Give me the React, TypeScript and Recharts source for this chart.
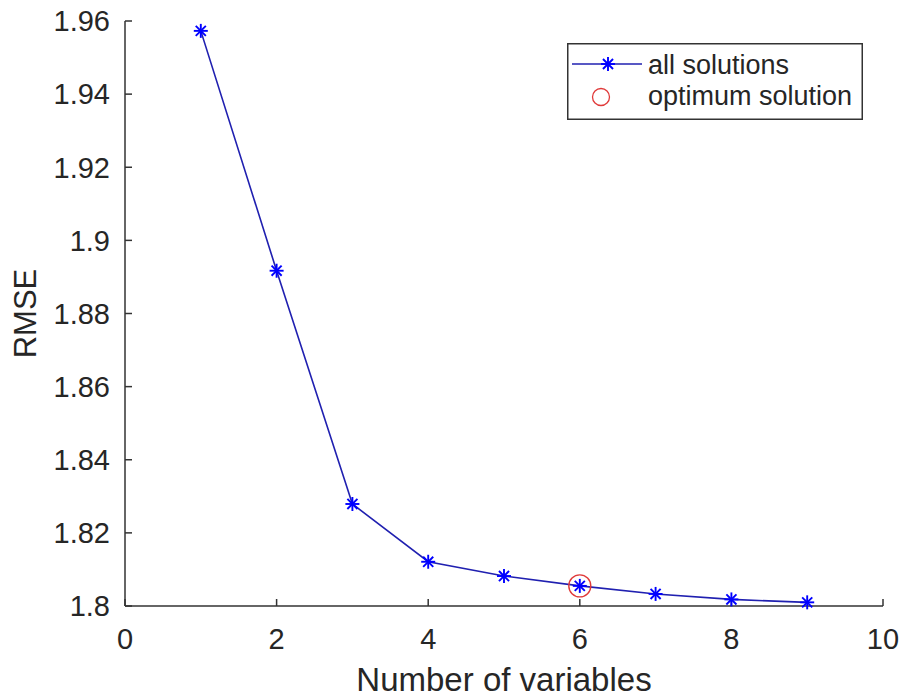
import {
  ComposedChart,
  Legend,
  Line,
  XAxis,
  YAxis,
} from "recharts";

const variables = [1, 2, 3, 4, 5, 6, 7, 8, 9];
const rmse = [1.9573, 1.8917, 1.8279, 1.8121, 1.8082, 1.8055, 1.8033, 1.8018, 1.801];
const optimumVariables = 6;
const xTicks = [0, 2, 4, 6, 8, 10];
const yTicks = [1.8, 1.82, 1.84, 1.86, 1.88, 1.9, 1.92, 1.94, 1.96];
const legendNames = ["all solutions", "optimum solution"];

const data = variables.map((n, i) => ({
  n,
  rmse: rmse[i],
  optimum: n === optimumVariables ? rmse[i] : null,
}));

const FONT = '"Liberation Sans", Arial, Helvetica, sans-serif';
const AXIS = "#333333";
const TEXT = "#262626";
const BLUE = "#0000ff";
const LINE_BLUE = "#2020b0";
const RED = "#e03a3a";

function Star({ cx, cy, r = 7, color = BLUE }: { cx: number; cy: number; r?: number; color?: string }) {
  const d = r * 0.72;
  return (
    <g stroke={color} strokeWidth={1.9}>
      <line x1={cx - r} y1={cy} x2={cx + r} y2={cy} />
      <line x1={cx} y1={cy - r} x2={cx} y2={cy + r} />
      <line x1={cx - d} y1={cy - d} x2={cx + d} y2={cy + d} />
      <line x1={cx - d} y1={cy + d} x2={cx + d} y2={cy - d} />
    </g>
  );
}

function LegendBox() {
  return (
    <svg width={296} height={77} style={{ display: "block" }}>
      <rect x={0.75} y={0.75} width={294.5} height={75.5} fill="#fff" stroke={AXIS} strokeWidth={1.5} />
      <line x1={5} y1={21} x2={75} y2={21} stroke={LINE_BLUE} strokeWidth={1.6} />
      <Star cx={41} cy={21} />
      <circle cx={34} cy={54} r={8.5} fill="none" stroke={RED} strokeWidth={1.3} />
      <text x={81} y={31} fontSize={27} fontFamily={FONT} fill={TEXT}>
        {legendNames[0]}
      </text>
      <text x={81} y={62} fontSize={27} fontFamily={FONT} fill={TEXT}>
        {legendNames[1]}
      </text>
    </svg>
  );
}

const tickStyle = { fontSize: 29, fontFamily: FONT, fill: TEXT };

export default function App() {
  return (
    <div style={{ position: "absolute", left: 0, top: 0, width: 905, height: 697, background: "#fff" }}>
      <ComposedChart
        width={905}
        height={697}
        data={data}
        margin={{ top: 21, right: 22, left: 0, bottom: 0 }}
      >
        <XAxis
          xAxisId="bottom"
          dataKey="n"
          type="number"
          domain={[0, 10]}
          ticks={xTicks}
          interval={0}
          height={91}
          tickSize={-7}
          tickMargin={29}
          stroke={AXIS}
          strokeWidth={1.5}
          tick={tickStyle}
          label={{
            content: ({ viewBox }: any) => (
              <text
                x={viewBox.x + viewBox.width / 2}
                y={viewBox.y + 85}
                textAnchor="middle"
                fontSize={33}
                fontFamily={FONT}
                fill={TEXT}
              >
                Number of variables
              </text>
            ),
          }}
        />
        <XAxis
          xAxisId="top"
          orientation="top"
          dataKey="n"
          type="number"
          domain={[0, 10]}
          ticks={xTicks}
          interval={0}
          height={0}
          tickSize={-7}
          tick={false}
          stroke={AXIS}
          strokeWidth={1.5}
        />
        <YAxis
          yAxisId="left"
          type="number"
          domain={[1.8, 1.96]}
          ticks={yTicks}
          interval={0}
          width={125}
          tickSize={-7}
          tickMargin={22}
          stroke={AXIS}
          strokeWidth={1.5}
          tick={tickStyle}
          label={{
            content: ({ viewBox }: any) => {
              const x = viewBox.x + 25;
              const y = viewBox.y + viewBox.height / 2;
              return (
                <text
                  x={x}
                  y={y}
                  transform={`rotate(-90, ${x}, ${y})`}
                  textAnchor="middle"
                  dominantBaseline="central"
                  fontSize={31}
                  fontFamily={FONT}
                  fill={TEXT}
                >
                  RMSE
                </text>
              );
            },
          }}
        />
        <YAxis
          yAxisId="right"
          orientation="right"
          type="number"
          domain={[1.8, 1.96]}
          ticks={yTicks}
          interval={0}
          width={0}
          tickSize={-7}
          tick={false}
          stroke={AXIS}
          strokeWidth={1.5}
        />
        <Line
          xAxisId="bottom"
          yAxisId="left"
          dataKey="rmse"
          name={legendNames[0]}
          type="linear"
          stroke={LINE_BLUE}
          strokeWidth={1.6}
          isAnimationActive={false}
          dot={(p: any) => <Star key={`s${p.index}`} cx={p.cx} cy={p.cy} />}
          activeDot={false}
        />
        <Line
          xAxisId="bottom"
          yAxisId="left"
          dataKey="optimum"
          name={legendNames[1]}
          type="linear"
          stroke="none"
          isAnimationActive={false}
          dot={(p: any) =>
            p.value == null || p.cy == null ? (
              <g key={`o${p.index}`} />
            ) : (
              <circle key={`o${p.index}`} cx={p.cx} cy={p.cy} r={11} fill="none" stroke={RED} strokeWidth={1.4} />
            )
          }
          activeDot={false}
        />
        <Legend
          layout="vertical"
          align="center"
          verticalAlign="middle"
          wrapperStyle={{ left: 567, top: 43, width: 296, height: 77 }}
          content={() => <LegendBox />}
        />
      </ComposedChart>
    </div>
  );
}
